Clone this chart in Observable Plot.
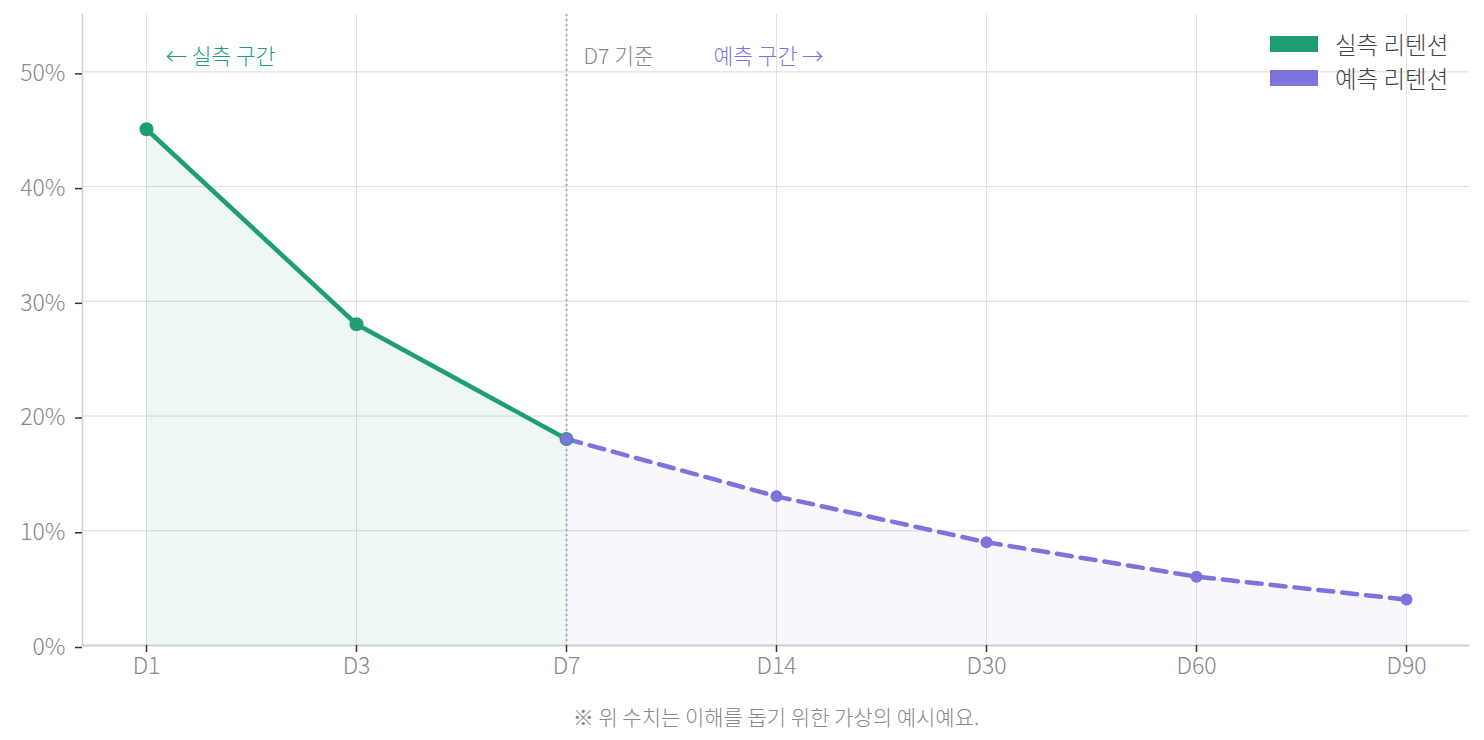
<!DOCTYPE html>
<html><head><meta charset="utf-8">
<script src="https://cdn.jsdelivr.net/npm/d3@7"></script>
<script src="https://cdn.jsdelivr.net/npm/@observablehq/plot@0.6"></script>
<style>
body{margin:0;background:#fff;font-family:"Noto Sans CJK KR","Noto Sans",sans-serif;}
#wrap{position:relative;width:1484px;height:740px;}
#legend{position:absolute;left:1270px;top:27px;font-size:23.5px;color:#444;font-weight:300;}
.row{display:flex;align-items:center;height:34px;}
.sw{width:48px;height:16px;margin-right:17px;}
#caption{position:absolute;left:0;width:1552px;top:701px;text-align:center;font-size:21px;color:#888;font-weight:300;line-height:30px;}
</style></head>
<body><div id="wrap"><div id="chart"></div>
<div id="legend"></div>
<div id="caption"></div></div>
<script>
const days = ["D1","D3","D7","D14","D30","D60","D90"];
const actualDays = ["D1","D3","D7"];
const actualValues = [45, 28, 18];
const predDays = ["D7","D14","D30","D60","D90"];
const predValues = [18, 13, 9, 6, 4];
const yTicks = [0,10,20,30,40,50];
const seriesNames = ["실측 리텐션","예측 리텐션"];
const colors = ["#1f9e74","#7c74dc"];
const annLabels = ["← 실측 구간","D7 기준","예측 구간 →"];
const annDays = ["D1","D7","D7"];
const annY = [51.3, 51.3, 51.3];
const annOffsets = [19, 17, 147];
const annColors = ["#1f9e74","#888888","#7c74dc"];
const captionText = "※ 위 수치는 이해를 돕기 위한 가상의 예시예요.";

const actual = actualDays.map((d,i)=>({day:d, value:actualValues[i]}));
const pred = predDays.map((d,i)=>({day:d, value:predValues[i]}));
const annMarks = annLabels.map((t,i)=>Plot.text([{text:t, day:annDays[i], y:annY[i]}],
  {x:"day", y:"y", text:"text", dx:annOffsets[i], fill:annColors[i], textAnchor:"start", fontSize:21.5, fontWeight:300}));

const font = '"Noto Sans CJK KR","Noto Sans",sans-serif';
const chart = Plot.plot({
  width:1484, height:695,
  marginLeft:82, marginRight:15, marginTop:14, marginBottom:50,
  style:{fontFamily:font, fontSize:"24px", fontWeight:300, background:"#fff"},
  x:{type:"point", domain:days, padding:0.3},
  y:{domain:[0,55]},
  marks:[
    Plot.gridX(days, {stroke:"#e2e2e2", strokeOpacity:1}),
    Plot.gridY(yTicks, {stroke:"#dcdcdc", strokeOpacity:1}),
    Plot.areaY(actual, {x:"day", y:"value", fill:colors[0], fillOpacity:0.08}),
    Plot.areaY(pred, {x:"day", y:"value", fill:colors[1], fillOpacity:0.06}),
    Plot.ruleX(["D7"], {stroke:"#a9adb5", strokeWidth:2, strokeDasharray:"2,3"}),
    Plot.ruleY([0], {stroke:"#d0d0d0", strokeWidth:2}),
    Plot.frame({anchor:"left", stroke:"#d0d0d0", strokeWidth:1.5}),
    Plot.line(actual, {x:"day", y:"value", stroke:colors[0], strokeWidth:4.5}),
    Plot.line(pred, {x:"day", y:"value", stroke:colors[1], strokeWidth:4.5, strokeDasharray:"15,9"}),
    Plot.dot(actual, {x:"day", y:"value", fill:colors[0], r:7}),
    Plot.dot(pred, {x:"day", y:"value", fill:colors[1], r:6}),
    Plot.axisX(days, {tickSize:7, tickPadding:5, stroke:"#333", strokeWidth:1.5, fill:"#888", label:null, fontSize:23, fontWeight:300}),
    Plot.axisY(yTicks, {tickSize:7, tickPadding:10, stroke:"#333", strokeWidth:1.5, fill:"#888", label:null, tickFormat:d=>d+"%", fontSize:23, fontWeight:300, dy:2}),
    ...annMarks
  ]
});
document.getElementById("chart").appendChild(chart);

const legend = document.getElementById("legend");
seriesNames.forEach((n,i)=>{
  const row = document.createElement("div"); row.className="row";
  const sw = document.createElement("div"); sw.className="sw"; sw.style.background=colors[i];
  const lab = document.createElement("span"); lab.textContent=n;
  row.appendChild(sw); row.appendChild(lab); legend.appendChild(row);
});
document.getElementById("caption").textContent = captionText;
</script>
</body></html>
